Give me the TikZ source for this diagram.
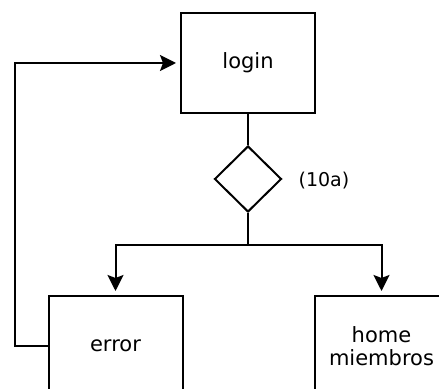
\documentclass[tikz,border=0pt]{standalone}
\usepackage{fontspec}
\setmainfont{DejaVu Sans}
\usetikzlibrary{shapes.geometric,arrows.meta}

\begin{document}
\begin{tikzpicture}[x=0.5pt,y=-0.5pt,line width=1pt,
    caja/.style={draw,rectangle,minimum width=67pt,minimum height=50pt,
                 align=center,font=\fontsize{10.5}{11.5}\selectfont},
    decision/.style={draw,diamond,minimum width=33.5pt,minimum height=33pt,inner sep=0pt},
    flecha/.style={-{Stealth[length=8pt,width=8pt,inset=1.5pt]},shorten >=2pt}]
\useasboundingbox (0,0) rectangle (439,389);
\node[caja] (login) at (248,63) {login};
\node[decision] (dec) at (248,179) {};
\node[anchor=west,font=\fontsize{9.5}{11}\selectfont] (etiq) at (291,181) {(10a)};
\node[caja] (error) at (115.5,346) {error};
\node[caja] (home) at (381.5,346) {home\\miembros};
\coordinate (cruce) at (248,245);
\coordinate (vuelta) at (15,346);
\draw (login) -- (dec);
\draw (dec) -- (cruce);
\draw[flecha] (cruce) -| (error);
\draw[flecha] (cruce) -| (home);
\draw[flecha] (error.west) -- (vuelta) |- (login.west);
\end{tikzpicture}
\end{document}
